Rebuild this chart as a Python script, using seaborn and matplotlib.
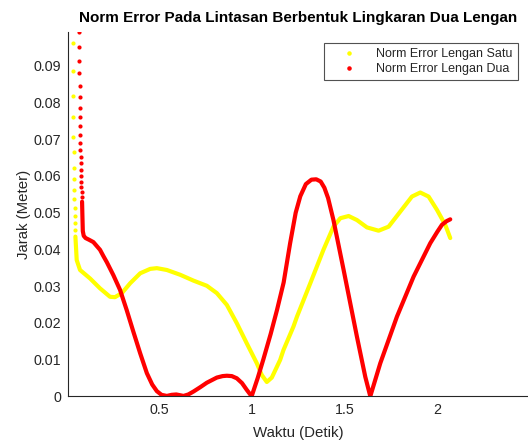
import matplotlib
matplotlib.use("Agg")
import matplotlib.pyplot as plt
from matplotlib.lines import Line2D
import seaborn as sns

sns.set_style("white")
plt.rcParams['font.family'] = ['Liberation Sans', 'DejaVu Sans']

# lengan satu (kuning): titik awal yang jarang, lalu kurva rapat
t1_dots = [0.030, 0.031, 0.031, 0.032, 0.032, 0.036, 0.036, 0.039, 0.039, 0.040,
           0.042, 0.042, 0.043, 0.043]
e1_dots = [0.0963, 0.0885, 0.0818, 0.0760, 0.0707, 0.0664, 0.0623, 0.0591, 0.0562, 0.0537,
           0.0512, 0.0491, 0.0471, 0.0453]
t1 = [0.045, 0.049, 0.052, 0.070, 0.124, 0.178, 0.232, 0.259, 0.296, 0.341,
      0.395, 0.449, 0.485, 0.539, 0.611, 0.683, 0.755, 0.809, 0.863, 0.917,
      0.971, 1.025, 1.052, 1.079, 1.106, 1.151, 1.169, 1.223, 1.242, 1.314,
      1.385, 1.439, 1.476, 1.521, 1.566, 1.620, 1.683, 1.737, 1.800, 1.863,
      1.908, 1.953, 1.998, 2.043, 2.070]
e1 = [0.0435, 0.0399, 0.0371, 0.0344, 0.0321, 0.0294, 0.0271, 0.0270, 0.0281, 0.0308,
      0.0335, 0.0347, 0.0349, 0.0344, 0.0331, 0.0315, 0.0301, 0.0281, 0.0249, 0.0199,
      0.0144, 0.0090, 0.0058, 0.0039, 0.0051, 0.0099, 0.0126, 0.0190, 0.0217, 0.0308,
      0.0399, 0.0462, 0.0485, 0.0491, 0.0480, 0.0460, 0.0451, 0.0462, 0.0503, 0.0544,
      0.0555, 0.0544, 0.0508, 0.0467, 0.0431]

# lengan dua (merah)
t2_dots = [0.063, 0.066, 0.066, 0.066, 0.069, 0.070, 0.070, 0.070, 0.072, 0.072,
           0.072, 0.072, 0.074, 0.074, 0.076, 0.076, 0.077, 0.077, 0.079, 0.079]
e2_dots = [0.0991, 0.0951, 0.0912, 0.0880, 0.0845, 0.0815, 0.0786, 0.0760, 0.0735, 0.0712,
           0.0691, 0.0671, 0.0653, 0.0635, 0.0617, 0.0600, 0.0585, 0.0571, 0.0557, 0.0544]
t2 = [0.081, 0.083, 0.085, 0.090, 0.100, 0.120, 0.142, 0.178, 0.196, 0.215,
      0.250, 0.286, 0.322, 0.358, 0.395, 0.431, 0.460, 0.485, 0.510, 0.539,
      0.565, 0.590, 0.610, 0.629, 0.655, 0.683, 0.720, 0.755, 0.809, 0.840,
      0.863, 0.890, 0.917, 0.945, 0.970, 0.997, 1.030, 1.060, 1.100, 1.134,
      1.170, 1.205, 1.235, 1.260, 1.290, 1.320, 1.346, 1.370, 1.390, 1.410,
      1.439, 1.494, 1.566, 1.611, 1.638, 1.692, 1.782, 1.872, 1.962, 2.000,
      2.025, 2.050, 2.070]
e2 = [0.0530, 0.0489, 0.0450, 0.0437, 0.0431, 0.0426, 0.0420, 0.0399, 0.0382, 0.0365,
      0.0330, 0.0290, 0.0235, 0.0176, 0.0117, 0.0063, 0.0032, 0.0014, 0.0004, 0.0001,
      0.0004, 0.0005, 0.0003, 0.0001, 0.0005, 0.0013, 0.0025, 0.0037, 0.0051, 0.0055,
      0.0056, 0.0055, 0.0049, 0.0036, 0.0018, 0.0000, 0.0050, 0.0100, 0.0170, 0.0235,
      0.0310, 0.0417, 0.0500, 0.0545, 0.0578, 0.0590, 0.0591, 0.0585, 0.0568, 0.0540,
      0.0480, 0.0344, 0.0162, 0.0053, 0.0000, 0.0090, 0.0217, 0.0326, 0.0417, 0.0448,
      0.0467, 0.0477, 0.0482]

yellow = '#FFFF00'
red = '#FF0000'

fig = plt.figure(figsize=(5.28, 4.43), dpi=100)
ax = fig.add_axes([68/528, 46.7/443, 460/528, 364.6/443])

sns.lineplot(x=t1, y=e1, color=yellow, linewidth=3, sort=False, ax=ax)
sns.scatterplot(x=t1_dots, y=e1_dots, color=yellow, s=9, linewidth=0, ax=ax)
sns.lineplot(x=t2, y=e2, color=red, linewidth=3, sort=False, ax=ax)
sns.scatterplot(x=t2_dots, y=e2_dots, color=red, s=9, linewidth=0, ax=ax)

ax.set_xlim(0.005, 2.49)
ax.set_ylim(0, 0.0993)
ax.set_xticks([0.5, 1, 1.5, 2])
ax.set_xticklabels(['0.5', '1', '1.5', '2'])
ax.set_yticks([0, 0.01, 0.02, 0.03, 0.04, 0.05, 0.06, 0.07, 0.08, 0.09])
ax.set_yticklabels(['0', '0.01', '0.02', '0.03', '0.04', '0.05', '0.06', '0.07', '0.08', '0.09'])

sns.despine(ax=ax)
for s in ['left', 'bottom']:
    ax.spines[s].set_color('#262626')
    ax.spines[s].set_linewidth(0.8)
ax.tick_params(direction='in', length=4, width=0.8, colors='#262626', labelsize=10.3, pad=5)

ax.set_xlabel('Waktu (Detik)', fontsize=10.8, color='#262626', labelpad=6)
ax.set_ylabel('Jarak (Meter)', fontsize=10.8, color='#262626', labelpad=2)
ax.set_title('Norm Error Pada Lintasan Berbentuk Lingkaran Dua Lengan',
             fontsize=11, fontweight='bold', color='black', pad=7)

handles = [Line2D([], [], color=yellow, marker='.', linestyle='None', markersize=4.5),
           Line2D([], [], color=red, marker='.', linestyle='None', markersize=4.5)]
leg = ax.legend(handles, ['Norm Error Lengan Satu', 'Norm Error Lengan Dua'],
                loc='upper left', bbox_to_anchor=(324/528, 1 - 43/443),
                bbox_transform=fig.transFigure, fontsize=9, frameon=True,
                fancybox=False, borderaxespad=0, handlelength=3.2, handletextpad=0.6,
                borderpad=0.4, labelspacing=0.25)
leg.get_frame().set_edgecolor('#262626')
leg.get_frame().set_linewidth(0.8)

fig.savefig('out.png', dpi=100)
